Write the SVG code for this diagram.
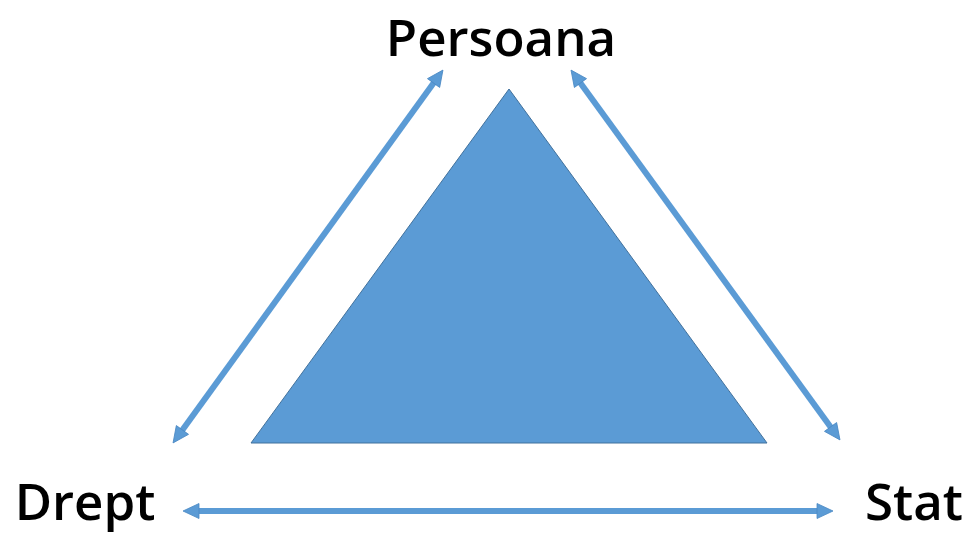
<svg xmlns="http://www.w3.org/2000/svg" width="972" height="535" viewBox="0 0 972 535">
<style>
.lbl{font-family:"Open Sans","Noto Sans",sans-serif;font-size:51px;font-weight:600;fill:#000;text-anchor:middle}
.conn{stroke:#5B9BD5;stroke-width:6;fill:none}
</style>
<defs>
<marker id="ah" markerUnits="userSpaceOnUse" markerWidth="18" markerHeight="18" viewBox="0 0 18 18" refX="6" refY="9" orient="auto-start-reverse">
<path d="M1,1.5 L17,9 L1,16.5 z" fill="#5B9BD5" stroke="#4A89C4" stroke-width="0.8"/>
</marker>
</defs>
<rect width="972" height="535" fill="#fff"/>
<g id="triangle">
<polygon points="509,89 767,443 251,443" fill="#5B9BD5" stroke="#41719C" stroke-width="1"/>
</g>
<g id="persoana"><text class="lbl" x="501" y="56">Persoana</text></g>
<g id="drept"><text class="lbl" x="85" y="520">Drept</text></g>
<g id="stat"><text class="lbl" x="914" y="520">Stat</text></g>
<g id="connectors">
<line class="conn" x1="436.5" y1="79" x2="179.5" y2="434" marker-start="url(#ah)" marker-end="url(#ah)"/>
<line class="conn" x1="577.5" y1="79" x2="833.5" y2="431" marker-start="url(#ah)" marker-end="url(#ah)"/>
<line class="conn" x1="194" y1="511" x2="822" y2="511" marker-start="url(#ah)" marker-end="url(#ah)"/>
</g>
</svg>
